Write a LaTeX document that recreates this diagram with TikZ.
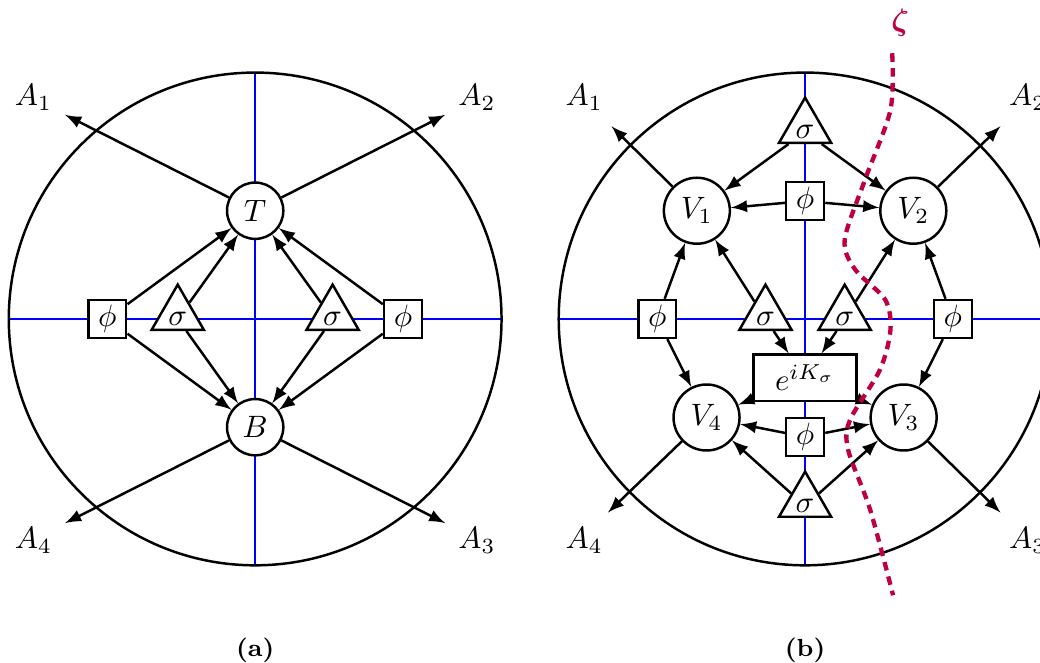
\documentclass[tikz,border=0pt]{standalone}
\usepackage{amsmath, amssymb}
\usepackage{xcolor}
\usepackage{tikz}
\usetikzlibrary{calc, shapes.geometric, positioning}

\tikzset{
    vtx/.style={draw, circle, fill=white, minimum size=0.75cm, inner sep=0pt},
    fld/.style={draw, rectangle, fill=white, minimum size=0.43cm, inner sep=0pt},
    trg/.style={draw, isosceles triangle, shape border rotate=90,
        isosceles triangle apex angle=60, fill=white, inner sep=1.35pt},
    kbox/.style={draw, rectangle, fill=white, minimum width=1.17cm, minimum height=0.5cm},
    axis/.style={blue, thick},
    cut/.style={purple, line width=1.4pt, dash pattern=on 2.8pt off 2pt},
}

\begin{document}
\begin{tikzpicture}[>=latex, thick]
    \useasboundingbox (-2.9,-3.91) rectangle (8.92,3.625);

    % (a): hai đỉnh T, B
    \draw[axis] (-2.8,0) -- (2.8,0);
    \draw[axis] (0,-2.8) -- (0,2.8);
    \draw (0,0) circle (2.8);

    \node[vtx, minimum size=0.64cm] (T) at (0,1.23) {$T$};
    \node[vtx, minimum size=0.64cm] (B) at (0,-1.23) {$B$};
    \node[fld] (phiW) at (-1.68,0) {$\phi$};
    \node[fld] (phiE) at (1.68,0) {$\phi$};
    \node[trg] (sigW) at (-0.88,0) {$\sigma$};
    \node[trg] (sigE) at (0.88,0) {$\sigma$};

    \coordinate (a1) at (-2.16,2.32);
    \coordinate (a2) at (2.16,2.32);
    \coordinate (a3) at (2.16,-2.32);
    \coordinate (a4) at (-2.16,-2.32);
    \node (la1) at (-2.52,2.52) {$A_1$};
    \node (la2) at (2.52,2.52) {$A_2$};
    \node (la3) at (2.52,-2.52) {$A_3$};
    \node (la4) at (-2.52,-2.52) {$A_4$};

    \draw[->] (T) -- (a1);
    \draw[->] (T) -- (a2);
    \draw[->] (B) -- (a3);
    \draw[->] (B) -- (a4);
    \foreach \s in {phiW, sigW, sigE, phiE} {
        \draw[->] (\s) -- (T);
        \draw[->] (\s) -- (B);
    }

    \node[font=\footnotesize\bfseries] (capa) at (0,-3.77) {(a)};

    % (b): bốn đỉnh V_1, ..., V_4
    \begin{scope}[shift={(6.25,0)}]
        \draw[axis] (-2.8,0) -- (2.8,0);
        \draw[axis] (0,-2.8) -- (0,2.8);
        \draw (0,0) circle (2.8);

        \node[vtx] (V1) at (-1.23,1.23) {$V_1$};
        \node[vtx] (V2) at (1.23,1.23) {$V_2$};
        \node[vtx] (V3) at (1.12,-1.12) {$V_3$};
        \node[vtx] (V4) at (-1.12,-1.12) {$V_4$};
        \node[kbox] (K) at (0,-0.67) {$e^{iK_\sigma}$};
        \node[fld] (fN) at (0,1.34) {$\phi$};
        \node[fld] (fS) at (0,-1.34) {$\phi$};
        \node[fld] (fW) at (-1.68,0) {$\phi$};
        \node[fld] (fE) at (1.68,0) {$\phi$};
        \node[trg] (sN) at (0,2.125) {$\sigma$};
        \node[trg] (sS) at (0,-2.125) {$\sigma$};
        \node[trg] (sW) at (-0.45,0) {$\sigma$};
        \node[trg] (sE) at (0.45,0) {$\sigma$};

        \coordinate (b1) at (-2.2,2.19);
        \coordinate (b2) at (2.22,2.19);
        \coordinate (b3) at (2.22,-2.2);
        \coordinate (b4) at (-2.24,-2.2);
        \node (lb1) at (-2.51,2.52) {$A_1$};
        \node (lb2) at (2.53,2.52) {$A_2$};
        \node (lb3) at (2.53,-2.52) {$A_3$};
        \node (lb4) at (-2.51,-2.52) {$A_4$};

        \draw[->] (V1) -- (b1);
        \draw[->] (V2) -- (b2);
        \draw[->] (V3) -- (b3);
        \draw[->] (V4) -- (b4);

        \foreach \s in {sN, fN} {
            \draw[->] (\s) -- (V1);
            \draw[->] (\s) -- (V2);
        }
        \foreach \s in {sS, fS} {
            \draw[->] (\s) -- (V4);
            \draw[->] (\s) -- (V3);
        }
        \draw[->] (fW) -- (V1);
        \draw[->] (fW) -- (V4);
        \draw[->] (fE) -- (V2);
        \draw[->] (fE) -- (V3);
        \draw[->] (sW) -- (V1);
        \draw[->] (sW) -- (K);
        \draw[->] (sE) -- (V2);
        \draw[->] (sE) -- (K);
        \draw[->] (K) -- (V4);
        \draw[->] (K) -- (V3);

        % đường cắt zeta
        \draw[cut] plot[smooth] coordinates {(0.99,3.02) (0.97,2.375) (0.68,1.58)
            (0.45,0.9) (0.57,0.56) (0.91,0.22) (0.97,-0.125) (0.85,-0.58)
            (0.51,-1.15) (0.49,-1.49) (0.74,-2.17) (1.0,-3.14)};
        \node[text=purple] (zeta) at (1.08,3.37) {$\boldsymbol{\zeta}$};

        \node[font=\footnotesize\bfseries] (capb) at (0,-3.77) {(b)};
    \end{scope}
\end{tikzpicture}
\end{document}
